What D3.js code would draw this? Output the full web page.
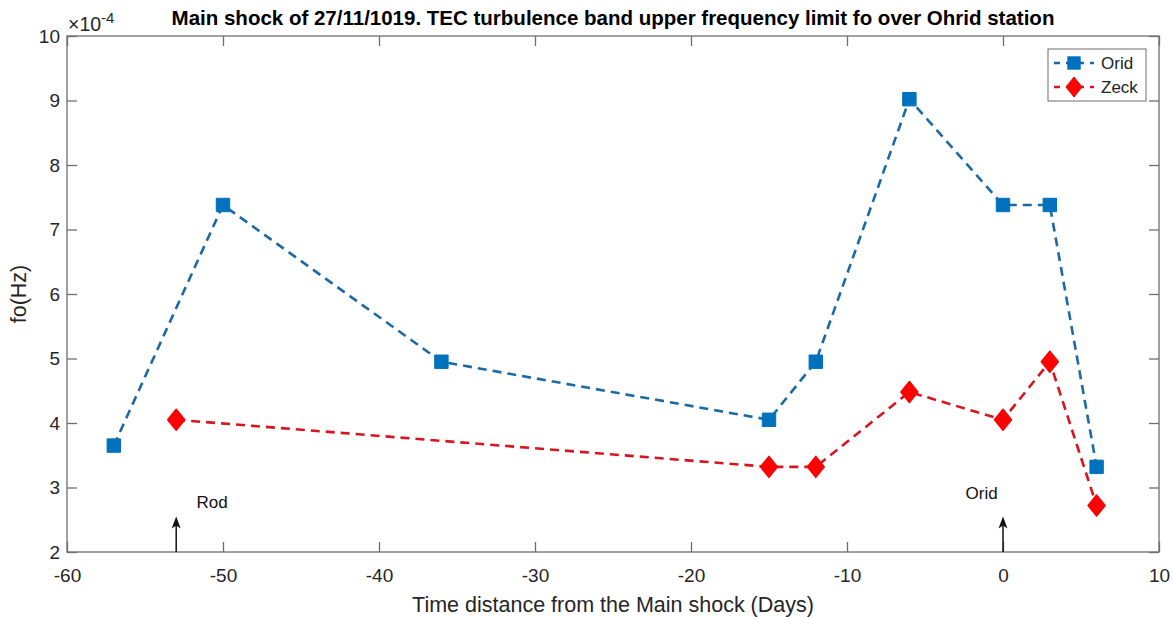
<!DOCTYPE html>
<html><head><meta charset="utf-8">
<script src="https://cdn.jsdelivr.net/npm/d3@7"></script>
<style>body{margin:0;background:#fff}svg{display:block}text{font-family:Arial,"Liberation Sans",sans-serif}</style>
</head><body>
<script>
const oridX = [-57, -50, -36, -15, -12, -6, 0, 3, 6];
const oridY = [3.65, 7.38, 4.95, 4.05, 4.95, 9.02, 7.38, 7.38, 3.32];
const zeckX = [-53, -15, -12, -6, 0, 3, 6];
const zeckY = [4.05, 3.32, 3.32, 4.48, 4.05, 4.95, 2.72];
const xTicks = [-60, -50, -40, -30, -20, -10, 0, 10];
const yTicks = [2, 3, 4, 5, 6, 7, 8, 9, 10];
const arrows = [{x: -53, label: "Rod", lx: -51.7, ly: 2.78}, {x: 0, label: "Orid", lx: -2.4, ly: 2.91}];
const titleText = "Main shock of 27/11/1019. TEC turbulence band upper frequency limit fo over Ohrid station";

const W = 1173, H = 617;
const m = {l: 67, r: 1159, t: 36, b: 552};
const svg = d3.select("body").append("svg").attr("width", W).attr("height", H);
const x = d3.scaleLinear().domain([-60, 10]).range([m.l, m.r]);
const y = d3.scaleLinear().domain([2, 10]).range([m.b, m.t]);
const axisColor = "#6e6e6e";

svg.append("rect").attr("x", m.l).attr("y", m.t).attr("width", m.r - m.l).attr("height", m.b - m.t)
  .attr("fill", "none").attr("stroke", axisColor).attr("stroke-width", 1.3);

function styleAxis(g) {
  g.select(".domain").remove();
  g.selectAll("line").attr("stroke", axisColor).attr("stroke-width", 1.3);
  g.selectAll("text").attr("fill", "#262626").attr("font-size", 19);
}
const fmt = d => String(d);
svg.append("g").attr("transform", `translate(0,${m.b})`)
  .call(d3.axisBottom(x).tickValues(xTicks).tickSize(-10).tickPadding(17).tickFormat(fmt)).call(styleAxis);
svg.append("g").attr("transform", `translate(0,${m.t})`)
  .call(d3.axisTop(x).tickValues(xTicks).tickSize(-10).tickFormat("")).call(styleAxis);
svg.append("g").attr("transform", `translate(${m.l},0)`)
  .call(d3.axisLeft(y).tickValues(yTicks).tickSize(-10).tickPadding(7).tickFormat(fmt)).call(styleAxis);
svg.append("g").attr("transform", `translate(${m.r},0)`)
  .call(d3.axisRight(y).tickValues(yTicks).tickSize(-10).tickFormat("")).call(styleAxis);

const ex = svg.append("text").attr("x", m.l + 1).attr("y", 31).attr("font-size", 19.5).attr("fill", "#262626");
ex.append("tspan").text("×10");
ex.append("tspan").attr("dy", -8).attr("font-size", 15).text("-4");

svg.append("text").attr("x", 613).attr("y", 25).attr("text-anchor", "middle")
  .attr("font-size", 20.5).attr("font-weight", "bold").attr("fill", "#000").text(titleText);

svg.append("text").attr("x", 613).attr("y", 612).attr("text-anchor", "middle")
  .attr("font-size", 21.5).attr("fill", "#262626").text("Time distance from the Main shock (Days)");
svg.append("text").attr("transform", `translate(26,${(m.t + m.b) / 2}) rotate(-90)`).attr("text-anchor", "middle")
  .attr("font-size", 21.5).attr("fill", "#262626").text("fo(Hz)");

const line = d3.line().x(d => x(d[0])).y(d => y(d[1]));
const orid = oridX.map((d, i) => [d, oridY[i]]);
const zeck = zeckX.map((d, i) => [d, zeckY[i]]);
const blue = "#0072BD", blueLine = "#1b6aa5", red = "#ff0000", redLine = "#d8141e";

svg.append("path").datum(orid).attr("d", line).attr("fill", "none").attr("stroke", blueLine)
  .attr("stroke-width", 2.6).attr("stroke-dasharray", "9,6");
svg.append("path").datum(zeck).attr("d", line).attr("fill", "none").attr("stroke", redLine)
  .attr("stroke-width", 2.6).attr("stroke-dasharray", "9,6");

const sq = d3.symbol().type(d3.symbolSquare).size(180);
svg.selectAll(".sq").data(orid).enter().append("path")
  .attr("transform", d => `translate(${x(d[0])},${y(d[1])})`)
  .attr("d", sq).attr("fill", blue).attr("stroke", blue).attr("stroke-width", 1).attr("stroke-linejoin", "round");

function diamond(cx, cy, w, h) {
  return `M${cx},${cy - h / 2}L${cx + w / 2},${cy}L${cx},${cy + h / 2}L${cx - w / 2},${cy}Z`;
}
svg.selectAll(".dm").data(zeck).enter().append("path")
  .attr("d", d => diamond(x(d[0]), y(d[1]), 17, 21)).attr("fill", red).attr("stroke", red)
  .attr("stroke-width", 1.5).attr("stroke-linejoin", "round");

arrows.forEach(a => {
  const ax = x(a.x), y0 = m.b, y1 = y(2.55);
  svg.append("line").attr("x1", ax).attr("x2", ax).attr("y1", y0).attr("y2", y1 + 4)
    .attr("stroke", "#111").attr("stroke-width", 1.5);
  svg.append("path").attr("d", `M${ax},${y1}L${ax + 4.5},${y1 + 12}L${ax},${y1 + 9}L${ax - 4.5},${y1 + 12}Z`).attr("fill", "#111");
  svg.append("text").attr("x", x(a.lx)).attr("y", y(a.ly) + 6).attr("font-size", 17).attr("fill", "#111").text(a.label);
});

const lg = svg.append("g");
lg.append("rect").attr("x", 1048).attr("y", 49).attr("width", 98).attr("height", 52)
  .attr("fill", "#fff").attr("stroke", axisColor).attr("stroke-width", 1);
const items = [{name: "Orid", c: blue, lc: blueLine, t: "sq"}, {name: "Zeck", c: red, lc: redLine, t: "dm"}];
items.forEach((it, i) => {
  const cy = 63 + i * 24;
  lg.append("line").attr("x1", 1054).attr("x2", 1094).attr("y1", cy).attr("y2", cy)
    .attr("stroke", it.lc).attr("stroke-width", 2.6).attr("stroke-dasharray", "6,6");
  if (it.t === "sq") lg.append("path").attr("transform", `translate(1074,${cy})`).attr("d", sq).attr("fill", it.c);
  else lg.append("path").attr("d", diamond(1074, cy, 16, 20)).attr("fill", it.c).attr("stroke", it.c).attr("stroke-linejoin", "round");
  lg.append("text").attr("x", 1101).attr("y", cy + 6).attr("font-size", 17).attr("fill", "#222").text(it.name);
});
</script>
</body></html>
